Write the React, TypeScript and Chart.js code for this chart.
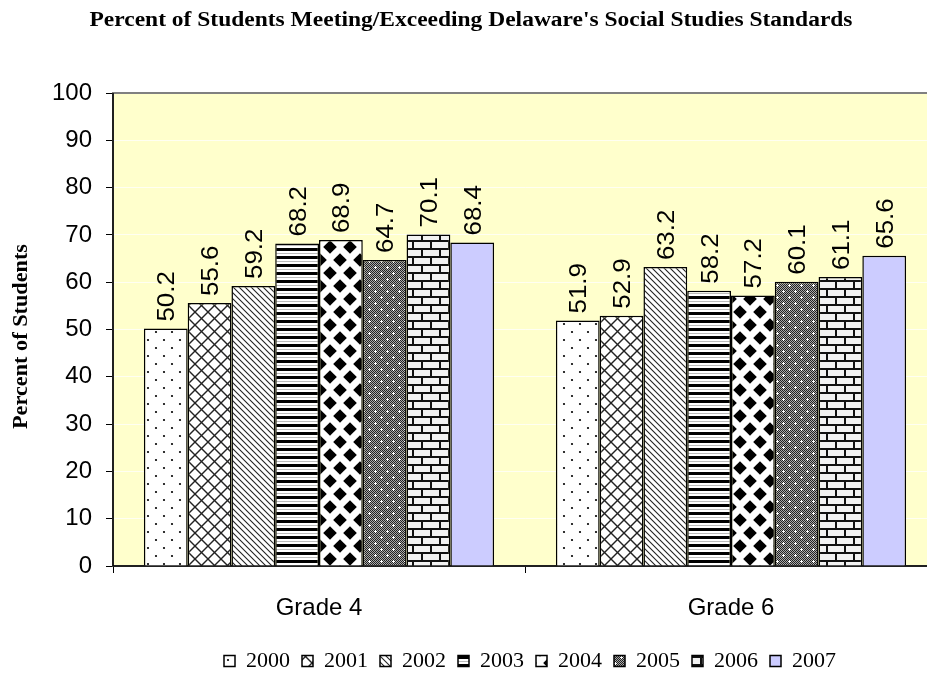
import React, { useEffect, useRef } from 'react';
import { Chart, registerables } from 'chart.js';
Chart.register(...registerables);

const chartTitle = "Percent of Students Meeting/Exceeding Delaware's Social Studies Standards";
const yAxisTitle = 'Percent of Students';
const categories = ['Grade 4', 'Grade 6'];
const years = ['2000', '2001', '2002', '2003', '2004', '2005', '2006', '2007'];
const v2000 = [50.2, 51.9];
const v2001 = [55.6, 52.9];
const v2002 = [59.2, 63.2];
const v2003 = [68.2, 58.2];
const v2004 = [68.9, 57.2];
const v2005 = [64.7, 60.1];
const v2006 = [70.1, 61.1];
const v2007 = [68.4, 65.6];
const yMin = 0;
const yMax = 100;
const yStep = 10;

const SANS = '"Liberation Sans", Arial, sans-serif';
const SERIF = '"Liberation Serif", "Times New Roman", serif';

function tile(w: number, h: number, draw: (g: CanvasRenderingContext2D, w: number, h: number) => void) {
  const c = document.createElement('canvas');
  c.width = w;
  c.height = h;
  const g = c.getContext('2d')!;
  draw(g, w, h);
  return g.createPattern(c, 'repeat') as CanvasPattern;
}

function diag(g: CanvasRenderingContext2D, w: number, h: number, dir: number) {
  for (const off of [-w, 0, w]) {
    g.beginPath();
    if (dir > 0) {
      g.moveTo(off - 1, -1);
      g.lineTo(off + w + 1, h + 1);
    } else {
      g.moveTo(off + w + 1, -1);
      g.lineTo(off - 1, h + 1);
    }
    g.stroke();
  }
}

function makePatterns() {
  const p2000 = tile(16, 16, (g, w, h) => {
    g.fillStyle = '#fff';
    g.fillRect(0, 0, w, h);
    g.fillStyle = '#000';
    for (const [x, y] of [[4, 4], [12, 12]]) {
      g.beginPath();
      g.arc(x, y, 1.1, 0, Math.PI * 2);
      g.fill();
    }
  });
  const p2001 = tile(13, 13, (g, w, h) => {
    g.fillStyle = '#fff';
    g.fillRect(0, 0, w, h);
    g.strokeStyle = '#222';
    g.lineWidth = 1.4;
    diag(g, w, h, 1);
    diag(g, w, h, -1);
  });
  const p2002 = tile(6, 6, (g, w, h) => {
    g.fillStyle = '#fff';
    g.fillRect(0, 0, w, h);
    g.strokeStyle = '#222';
    g.lineWidth = 1.1;
    diag(g, w, h, 1);
  });
  const p2003 = tile(4, 8, (g, w, h) => {
    g.fillStyle = '#fff';
    g.fillRect(0, 0, w, h);
    g.fillStyle = '#000';
    g.fillRect(0, 0, w, 3);
    g.fillStyle = '#bbb';
    g.fillRect(0, 5, w, 1);
  });
  const p2004 = tile(20, 26, (g, w, h) => {
    g.fillStyle = '#fff';
    g.fillRect(0, 0, w, h);
    g.fillStyle = '#000';
    const r = 6.8;
    for (const [x, y] of [[0, 0], [w, 0], [0, h], [w, h], [w / 2, h / 2]]) {
      g.beginPath();
      g.moveTo(x, y - r);
      g.lineTo(x + r, y);
      g.lineTo(x, y + r);
      g.lineTo(x - r, y);
      g.closePath();
      g.fill();
    }
  });
  const p2005 = tile(12, 12, (g, w, h) => {
    for (let y = 0; y < h; y++) {
      for (let x = 0; x < w; x++) {
        g.fillStyle = (x + y) % 2 === 0 ? '#222' : '#aaa';
        g.fillRect(x, y, 1, 1);
      }
    }
    g.fillStyle = '#fff';
    for (const [x, y] of [[3, 3], [9, 9]]) {
      g.fillRect(x - 1, y, 3, 1);
      g.fillRect(x, y - 1, 1, 3);
    }
  });
  const p2006 = tile(18, 16, (g, w, h) => {
    g.fillStyle = '#111';
    g.fillRect(0, 0, w, h);
    g.fillStyle = '#f2f2f2';
    g.fillRect(0, 2, 16, 6);
    g.fillRect(0, 10, 7, 6);
    g.fillRect(9, 10, 9, 6);
  });
  return [p2000, p2001, p2002, p2003, p2004, p2005, p2006, '#CCCCFF'];
}

const CW = 1060;
const CH = 682;

export default function App() {
  const ref = useRef<HTMLCanvasElement>(null);

  useEffect(() => {
    const canvas = ref.current!;
    const fills = makePatterns();
    const series = [v2000, v2001, v2002, v2003, v2004, v2005, v2006, v2007];

    const decor = {
      id: 'decor',
      beforeDraw(chart: any) {
        const { ctx, chartArea: a } = chart;
        ctx.save();
        ctx.fillStyle = '#fff';
        ctx.fillRect(0, 0, chart.width, chart.height);
        ctx.fillStyle = '#FFFFCC';
        ctx.fillRect(a.left, a.top, a.right - a.left, a.bottom - a.top);
        ctx.restore();
      },
      beforeDatasetsDraw(chart: any) {
        const { ctx, chartArea: a } = chart;
        ctx.save();
        ctx.strokeStyle = '#808080';
        ctx.lineWidth = 2;
        ctx.strokeRect(a.left, a.top, a.right - a.left, a.bottom - a.top);
        ctx.strokeStyle = '#000';
        ctx.lineWidth = 1.5;
        ctx.beginPath();
        ctx.moveTo(a.left, a.top);
        ctx.lineTo(a.left, a.bottom);
        ctx.lineTo(a.right + 5, a.bottom);
        ctx.stroke();
        ctx.restore();
      },
      afterDatasetsDraw(chart: any) {
        const { ctx } = chart;
        ctx.save();
        ctx.fillStyle = '#000';
        ctx.font = `24px ${SANS}`;
        ctx.textAlign = 'left';
        ctx.textBaseline = 'alphabetic';
        chart.data.datasets.forEach((ds: any, i: number) => {
          const meta = chart.getDatasetMeta(i);
          meta.data.forEach((bar: any, j: number) => {
            const txt = ds.data[j].toFixed(1);
            ctx.save();
            ctx.translate(bar.x + 8.5, bar.y - 7);
            ctx.rotate(-Math.PI / 2);
            ctx.scale(1.08, 1);
            ctx.fillText(txt, 0, 0);
            ctx.restore();
          });
        });
        ctx.restore();
      },
      afterDraw(chart: any) {
        const { ctx, chartArea: a } = chart;
        ctx.save();
        ctx.fillStyle = '#000';
        ctx.font = `bold 20px ${SERIF}`;
        ctx.textAlign = 'center';
        ctx.textBaseline = 'middle';
        const tw = ctx.measureText(chartTitle).width;
        ctx.translate(471, 21);
        ctx.scale(763 / tw, 1);
        ctx.fillText(chartTitle, 0, 0);
        ctx.restore();

        ctx.save();
        ctx.fillStyle = '#000';
        ctx.font = `bold 20px ${SERIF}`;
        ctx.textAlign = 'center';
        ctx.textBaseline = 'middle';
        const yw = ctx.measureText(yAxisTitle).width;
        ctx.translate(22, (a.top + a.bottom) / 2 + 7);
        ctx.rotate(-Math.PI / 2);
        ctx.scale(185 / yw, 1);
        ctx.fillText(yAxisTitle, 0, 0);
        ctx.restore();
      },
    };

    const chart = new Chart(canvas, {
      type: 'bar',
      data: {
        labels: categories,
        datasets: years.map((y, i) => ({
          label: y,
          data: series[i],
          backgroundColor: fills[i] as any,
          borderColor: '#000',
          borderWidth: 1.5,
          categoryPercentage: 0.85,
          barPercentage: 1,
        })),
      },
      options: {
        responsive: false,
        animation: false,
        devicePixelRatio: 1,
        layout: { padding: { top: 93, left: 0, right: 0, bottom: 0 } },
        plugins: {
          title: { display: false },
          tooltip: { enabled: false },
          legend: {
            display: true,
            position: 'bottom',
            labels: {
              font: { family: SERIF, size: 22 },
              color: '#000',
              boxWidth: 11,
              boxHeight: 11,
              padding: 12,
            },
          },
        },
        scales: {
          x: {
            type: 'category',
            offset: true,
            grid: {
              display: true,
              drawOnChartArea: false,
              drawTicks: true,
              tickLength: 7,
              color: '#000',
              offset: true,
            },
            border: { display: true, color: '#000', width: 1.5 },
            ticks: { font: { family: SANS, size: 24 }, color: '#000', padding: 21 },
            afterFit: (s: any) => { s.height = 72; },
          },
          y: {
            type: 'linear',
            min: yMin,
            max: yMax,
            ticks: { stepSize: yStep, font: { family: SANS, size: 24 }, color: '#000', padding: 14 },
            grid: {
              color: 'rgba(255,255,255,0.75)',
              lineWidth: 1,
              tickColor: '#000',
              tickLength: 7,
              drawTicks: true,
            },
            border: { display: true, color: '#000', width: 1.5 },
            afterFit: (s: any) => { s.width = 113; },
          },
          spacer: {
            type: 'linear',
            position: 'right',
            display: true,
            grid: { display: false, drawTicks: false },
            ticks: { display: false },
            border: { display: false },
            afterFit: (s: any) => { s.width = CW - 937; },
          },
        },
      } as any,
      plugins: [decor],
    });
    return () => chart.destroy();
  }, []);

  return (
    <div style={{ position: 'fixed', left: 0, top: 0, width: 927, height: 675, overflow: 'hidden', background: '#fff' }}>
      <canvas ref={ref} width={CW} height={CH} style={{ display: 'block', width: CW, height: CH }} />
    </div>
  );
}
